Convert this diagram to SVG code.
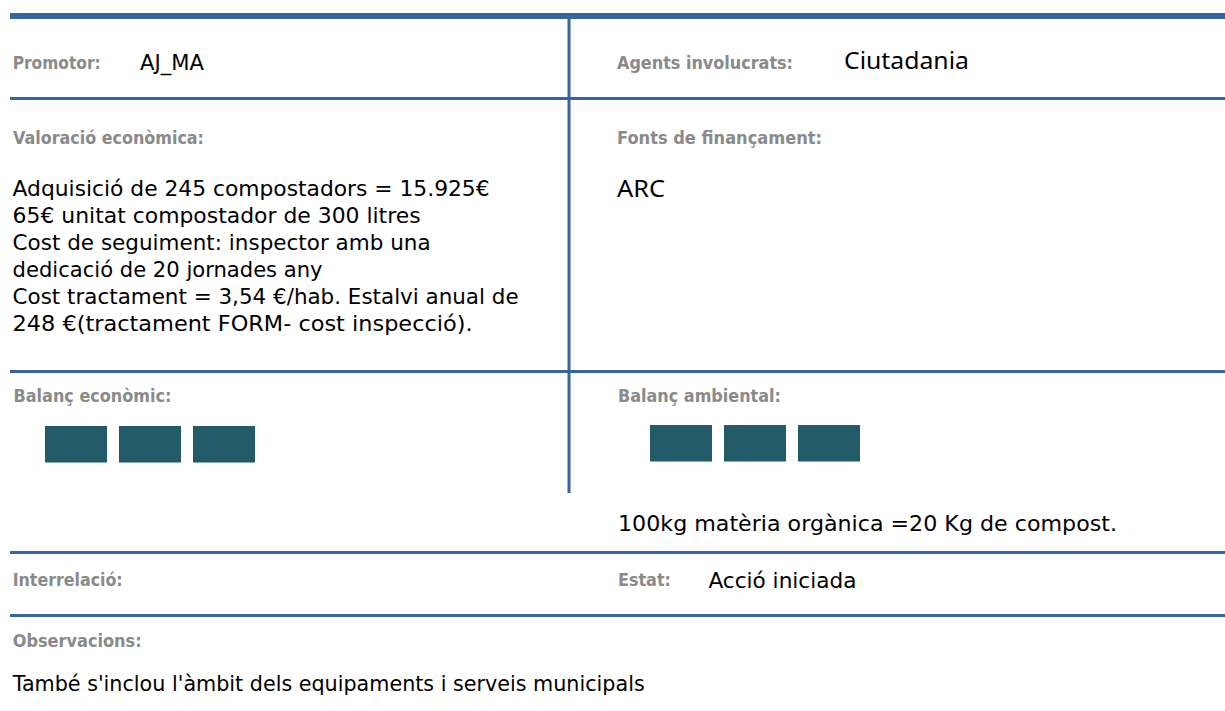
<svg xmlns="http://www.w3.org/2000/svg" width="1225" height="711" viewBox="0 0 1225 711">
<style>
.bg{fill:#ffffff}
.rule{fill:#3765a0}
.lbl{font-family:"DejaVu Sans","Liberation Sans",sans-serif;font-weight:bold;font-size:17px;fill:#8a8a8a}
.body{font-family:"DejaVu Sans","Liberation Sans",sans-serif;font-size:22px;fill:#000000}
.cal{font-family:"Noto Sans","Open Sans",sans-serif;font-size:24px;fill:#000000}
.bar{fill:#225a67}
</style>
<rect class="bg" x="0" y="0" width="1225" height="711"/>
<g id="connectors">
<rect class="rule" x="10" y="13" width="1215" height="6"/>
<rect class="rule" x="567.5" y="19" width="3" height="474"/>
<rect class="rule" x="10" y="97" width="1215" height="3"/>
<rect class="rule" x="10" y="370" width="1215" height="3"/>
<rect class="rule" x="10" y="551" width="1215" height="3"/>
<rect class="rule" x="10" y="614" width="1215" height="3"/>
</g>
<g id="promotor">
<text class="lbl" x="12.7" y="69" textLength="88" lengthAdjust="spacingAndGlyphs">Promotor:</text>
<text class="body" x="140" y="70" textLength="64" lengthAdjust="spacingAndGlyphs">AJ_MA</text>
</g>
<g id="agents">
<text class="lbl" x="617" y="69" textLength="176" lengthAdjust="spacingAndGlyphs">Agents involucrats:</text>
<text class="cal" x="844" y="69" textLength="125" lengthAdjust="spacingAndGlyphs">Ciutadania</text>
</g>
<g id="valoracio">
<text class="lbl" x="13" y="144" textLength="191" lengthAdjust="spacingAndGlyphs">Valoració econòmica:</text>
<text class="body" x="12.6" y="196" textLength="477" lengthAdjust="spacingAndGlyphs">Adquisició de 245 compostadors = 15.925€</text>
<text class="body" x="12.6" y="223" textLength="408" lengthAdjust="spacingAndGlyphs">65€ unitat compostador de 300 litres</text>
<text class="body" x="12.6" y="250" textLength="418" lengthAdjust="spacingAndGlyphs">Cost de seguiment: inspector amb una</text>
<text class="body" x="12.6" y="277" textLength="310" lengthAdjust="spacingAndGlyphs">dedicació de 20 jornades any</text>
<text class="body" x="12.6" y="304" textLength="506" lengthAdjust="spacingAndGlyphs">Cost tractament = 3,54 €/hab. Estalvi anual de</text>
<text class="body" x="12.6" y="331" textLength="460" lengthAdjust="spacingAndGlyphs">248 €(tractament FORM- cost inspecció).</text>
</g>
<g id="fonts">
<text class="lbl" x="617" y="144" textLength="205" lengthAdjust="spacingAndGlyphs">Fonts de finançament:</text>
<text class="cal" x="617" y="197" textLength="48" lengthAdjust="spacingAndGlyphs">ARC</text>
</g>
<g id="balanc-economic">
<text class="lbl" x="13.5" y="402" textLength="158" lengthAdjust="spacingAndGlyphs">Balanç econòmic:</text>
<rect class="bar" x="45" y="426" width="62" height="36.5"/>
<rect class="bar" x="119" y="426" width="62" height="36.5"/>
<rect class="bar" x="193" y="426" width="62" height="36.5"/>
</g>
<g id="balanc-ambiental">
<text class="lbl" x="618" y="402" textLength="163" lengthAdjust="spacingAndGlyphs">Balanç ambiental:</text>
<rect class="bar" x="650" y="425" width="62" height="36.5"/>
<rect class="bar" x="724" y="425" width="62" height="36.5"/>
<rect class="bar" x="798" y="425" width="62" height="36.5"/>
<text class="body" x="618" y="531" textLength="499" lengthAdjust="spacingAndGlyphs">100kg matèria orgànica =20 Kg de compost.</text>
</g>
<g id="interrelacio">
<text class="lbl" x="12.7" y="586" textLength="110" lengthAdjust="spacingAndGlyphs">Interrelació:</text>
</g>
<g id="estat">
<text class="lbl" x="618" y="586" textLength="53" lengthAdjust="spacingAndGlyphs">Estat:</text>
<text class="body" x="708.4" y="588" textLength="148" lengthAdjust="spacingAndGlyphs">Acció iniciada</text>
</g>
<g id="observacions">
<text class="lbl" x="12.7" y="647" textLength="129" lengthAdjust="spacingAndGlyphs">Observacions:</text>
<text class="body" x="12.7" y="691" textLength="632" lengthAdjust="spacingAndGlyphs">També s'inclou l'àmbit dels equipaments i serveis municipals</text>
</g>
</svg>
